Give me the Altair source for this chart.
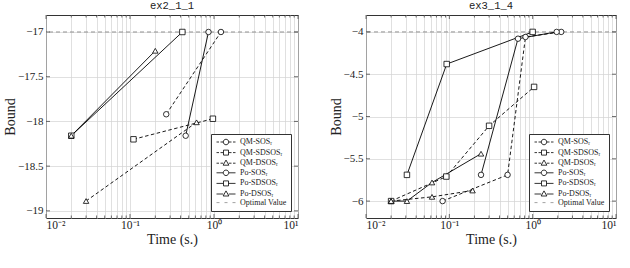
import altair as alt
import pandas as pd

# ---- series names, marker kinds, families -------------------------------
SERIES = ["QM-SOSᵣ", "QM-SDSOSᵣ", "QM-DSOSᵣ", "Po-SOSᵣ", "Po-SDSOSᵣ", "Po-DSOSᵣ"]
FAMILY = ["QM", "QM", "QM", "Po", "Po", "Po"]
MARKER = ["circle", "square", "triangle-up", "circle", "square", "triangle-up"]
LEGEND_NAMES = SERIES + ["Optimal Value"]

# ---- ex2_1_1 ---------------------------------------------------------------
ex2_qm_sos_t = [0.27, 1.21]
ex2_qm_sos_b = [-17.92, -17.0]
ex2_qm_sdsos_t = [0.11, 0.97]
ex2_qm_sdsos_b = [-18.20, -17.97]
ex2_qm_dsos_t = [0.03, 0.62]
ex2_qm_dsos_b = [-18.89, -18.01]
ex2_po_sos_t = [0.46, 0.86]
ex2_po_sos_b = [-18.16, -17.0]
ex2_po_sdsos_t = [0.02, 0.42]
ex2_po_sdsos_b = [-18.16, -17.0]
ex2_po_dsos_t = [0.02, 0.2]
ex2_po_dsos_b = [-18.16, -17.21]
ex2_optimal = [-17.0]
ex2_yticks = [-19.0, -18.5, -18.0, -17.5, -17.0]
ex2_ydomain = [-19.08, -16.81]

# ---- ex3_1_4 ---------------------------------------------------------------
ex3_qm_sos_t = [0.083, 0.50, 0.82, 2.2]
ex3_qm_sos_b = [-6.0, -5.69, -4.06, -4.0]
ex3_qm_sdsos_t = [0.02, 0.092, 0.30, 1.04]
ex3_qm_sdsos_b = [-6.0, -5.71, -5.11, -4.65]
ex3_qm_dsos_t = [0.02, 0.062, 0.19]
ex3_qm_dsos_b = [-6.0, -5.95, -5.875]
ex3_po_sos_t = [0.24, 0.667, 1.94]
ex3_po_sos_b = [-5.69, -4.08, -4.0]
ex3_po_sdsos_t = [0.031, 0.093, 1.0]
ex3_po_sdsos_b = [-5.69, -4.38, -4.0]
ex3_po_dsos_t = [0.02, 0.031, 0.062, 0.24]
ex3_po_dsos_b = [-6.0, -6.0, -5.78, -5.44]
ex3_optimal = [-4.0]
ex3_yticks = [-6.0, -5.5, -5.0, -4.5, -4.0]
ex3_ydomain = [-6.2, -3.8]

# ---- log-axis ticks: decades carry labels, the rest are minor --------------
X_MAJOR = [0.01, 0.1, 1.0, 10.0]
X_MINOR = [round(m * d, 6) for d in [0.01, 0.1, 1.0] for m in range(2, 10)]
X_LABELS = {0.01: "10⁻²", 0.1: "10⁻¹", 1.0: "10⁰", 10.0: "10¹"}

SERIF = "Liberation Serif"
INK = "#222222"
GRID = "#d2d2d2"
OPT_GRAY = "#8a8a8a"

# legend glyphs: a short line (dashed or solid) with the marker in the middle
CIRCLE = "M1.1,0A1.1,1.1,0,1,1,-1.1,0A1.1,1.1,0,1,1,1.1,0Z"
SQUARE = "M-1,-1H1V1H-1Z"
TRIANGLE = "M0,-1.25L1.15,0.8H-1.15Z"
DASHED = "M-3.8,0H-2.8M-2.2,0H-1.1M1.1,0H2.2M2.8,0H3.8"
SOLID = "M-3.8,0H-1.1M1.1,0H3.8"
GLYPHS = [DASHED + CIRCLE, DASHED + SQUARE, DASHED + TRIANGLE,
          SOLID + CIRCLE, SOLID + SQUARE, SOLID + TRIANGLE,
          "M-3.8,0H-2.6M-0.6,0H0.6M2.6,0H3.8"]
GLYPH_COLORS = ["black"] * 6 + [OPT_GRAY]


def frame(times, bounds):
    rows = []
    for name, fam, mk, ts, bs in zip(SERIES, FAMILY, MARKER, times, bounds):
        for t, b in zip(ts, bs):
            rows.append({"series": name, "family": fam, "marker": mk, "time": t, "bound": b})
    return pd.DataFrame(rows)


def label_expr():
    parts = [f"datum.value == {v} ? '{s}'" for v, s in X_LABELS.items()]
    return " : ".join(parts) + " : ''"


def panel(title, df, optimal, yticks, ydomain, width, height):
    x = alt.X(
        "time:Q",
        title="Time (s.)",
        scale=alt.Scale(type="log", domain=[0.01, 10]),
        axis=alt.Axis(
            values=sorted(X_MAJOR + X_MINOR), labelExpr=label_expr(), labelOverlap=False,
            grid=True, gridColor=GRID, gridWidth=0.7, ticks=False, domain=False,
            labelFont=SERIF, labelFontSize=11.5, labelColor=INK, labelPadding=1,
            titleFont=SERIF, titleFontSize=14, titleFontWeight="normal", titleColor=INK,
            titlePadding=2,
        ),
    )
    y = alt.Y(
        "bound:Q",
        title="Bound",
        scale=alt.Scale(domain=ydomain, nice=False, zero=False),
        axis=alt.Axis(
            values=yticks, format=".1~f", grid=True, gridColor=GRID, gridWidth=0.7,
            ticks=False, domain=False, labelFont=SERIF, labelFontSize=11, labelColor=INK,
            labelPadding=3, titleFont=SERIF, titleFontSize=14, titleFontWeight="normal",
            titleColor=INK, titlePadding=0,
        ),
    )

    base = alt.Chart(df).encode(x=x, y=y)

    # inward tick marks along the frame
    xmaj = pd.DataFrame({"time": X_MAJOR})
    xmin = pd.DataFrame({"time": X_MINOR})
    ymaj = pd.DataFrame({"bound": yticks})
    tick_style = dict(color="#333333", strokeWidth=0.7)
    ticks = [
        alt.Chart(xmaj).mark_rule(**tick_style).encode(x=x, y=alt.value(height), y2=alt.value(height - 4)),
        alt.Chart(xmaj).mark_rule(**tick_style).encode(x=x, y=alt.value(0), y2=alt.value(4)),
        alt.Chart(xmin).mark_rule(**tick_style).encode(x=x, y=alt.value(height), y2=alt.value(height - 2.5)),
        alt.Chart(xmin).mark_rule(**tick_style).encode(x=x, y=alt.value(0), y2=alt.value(2.5)),
        alt.Chart(ymaj).mark_rule(**tick_style).encode(y=y, x=alt.value(0), x2=alt.value(4)),
        alt.Chart(ymaj).mark_rule(**tick_style).encode(y=y, x=alt.value(width), x2=alt.value(width - 4)),
    ]

    opt = alt.Chart(pd.DataFrame({"bound": optimal})).mark_rule(
        color=OPT_GRAY, strokeWidth=0.9, strokeDash=[4, 3]
    ).encode(y=y)

    qm_lines = base.transform_filter("datum.family == 'QM'").mark_line(
        color="black", strokeWidth=0.9, strokeDash=[3.5, 2.5]
    ).encode(detail="series:N", order="time:Q")
    po_lines = base.transform_filter("datum.family == 'Po'").mark_line(
        color="black", strokeWidth=0.9
    ).encode(detail="series:N", order="time:Q")

    points = base.mark_point(
        filled=True, fill="white", stroke="black", strokeWidth=0.8, size=30, opacity=1
    ).encode(shape=alt.Shape("marker:N", scale=None))

    leg = alt.Legend(
        title=None, orient="bottom-right", offset=7, padding=4,
        fillColor="white", strokeColor="#333333", symbolSize=25, symbolStrokeWidth=0.8,
        symbolOffset=7, labelOffset=10, labelFont=SERIF, labelFontSize=8, labelColor=INK,
        rowPadding=0.6,
    )
    key = alt.Chart(pd.DataFrame({"name": LEGEND_NAMES})).transform_filter("false").mark_point(
        filled=True, fill="white", strokeWidth=0.8, opacity=1
    ).encode(
        shape=alt.Shape("name:N", scale=alt.Scale(domain=LEGEND_NAMES, range=GLYPHS), legend=leg),
        stroke=alt.Stroke("name:N", scale=alt.Scale(domain=LEGEND_NAMES, range=GLYPH_COLORS), legend=leg),
    )

    return alt.layer(opt, *ticks, qm_lines, po_lines, points, key).properties(
        width=width, height=height,
        title=alt.TitleParams(title, font="Liberation Mono", fontSize=10.5,
                              fontWeight="normal", color=INK, offset=3),
    )


ex2 = frame(
    [ex2_qm_sos_t, ex2_qm_sdsos_t, ex2_qm_dsos_t, ex2_po_sos_t, ex2_po_sdsos_t, ex2_po_dsos_t],
    [ex2_qm_sos_b, ex2_qm_sdsos_b, ex2_qm_dsos_b, ex2_po_sos_b, ex2_po_sdsos_b, ex2_po_dsos_b],
)
ex3 = frame(
    [ex3_qm_sos_t, ex3_qm_sdsos_t, ex3_qm_dsos_t, ex3_po_sos_t, ex3_po_sdsos_t, ex3_po_dsos_t],
    [ex3_qm_sos_b, ex3_qm_sdsos_b, ex3_qm_dsos_b, ex3_po_sos_b, ex3_po_sdsos_b, ex3_po_dsos_b],
)

left = panel("ex2_1_1", ex2, ex2_optimal, ex2_yticks, ex2_ydomain, 252, 203)
right = panel("ex3_1_4", ex3, ex3_optimal, ex3_yticks, ex3_ydomain, 250, 203)

chart = alt.hconcat(left, right, spacing=68, bounds="flush").resolve_scale(
    shape="independent", stroke="independent"
).resolve_legend(shape="independent", stroke="independent").properties(
    padding={"left": 3, "top": 0, "right": 0, "bottom": 0}
).configure_view(stroke="#333333", strokeWidth=1)

chart.save("out.html", embed_options={"renderer": "svg", "actions": False})
